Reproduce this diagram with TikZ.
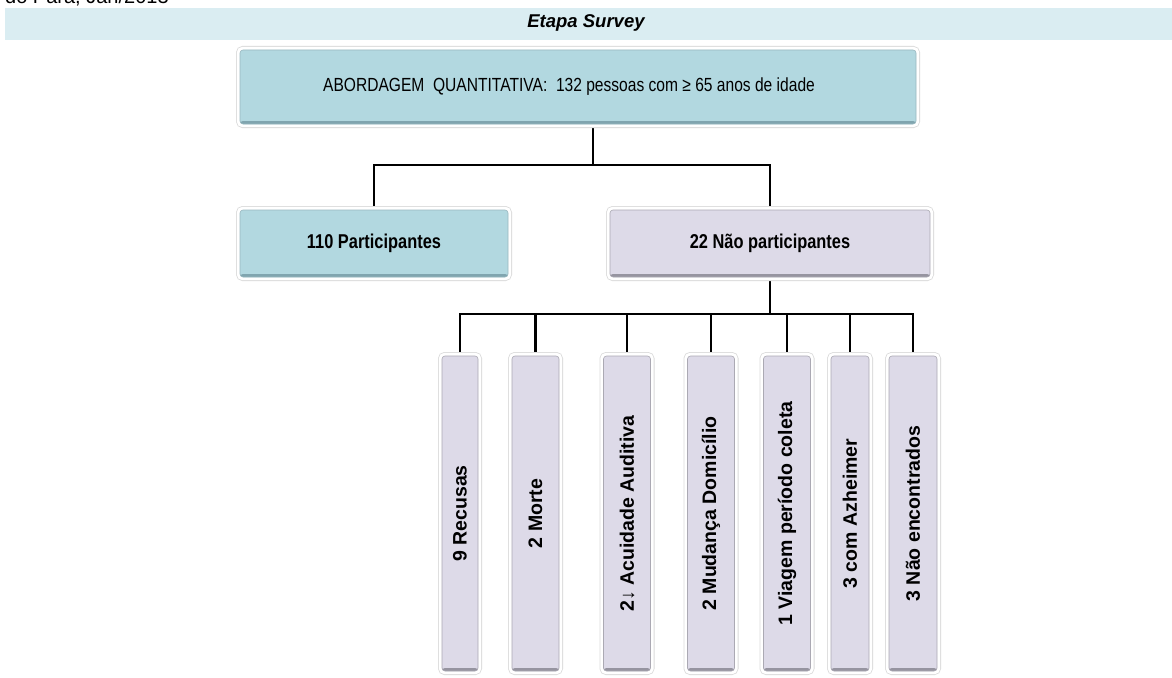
\documentclass[tikz,border=0pt]{standalone}
\usepackage{fontspec}
\setmainfont{Liberation Sans}
\newfontfamily\narrowfont{Liberation Sans}[FakeStretch=0.82]
\usetikzlibrary{calc,backgrounds}
\definecolor{bandc}{RGB}{218,237,242}
\definecolor{tealfill}{RGB}{178,216,224}
\definecolor{tealdark}{RGB}{128,165,175}
\definecolor{lavfill}{RGB}{221,218,232}
\definecolor{lavdark}{RGB}{150,148,160}
\tikzset{
  rimbox/.style={rectangle, rounded corners=3pt, inner sep=0pt, line width=0.6pt,
    preaction={draw=black!14, line width=8pt},
    preaction={draw=white, line width=6.4pt}},
  tealbox/.style={rimbox, fill=tealfill, draw=tealdark!80,
    path picture={\fill[tealdark] (path picture bounding box.south west) rectangle ([yshift=3pt]path picture bounding box.south east);}},
  lavbox/.style={rimbox, fill=lavfill, draw=lavdark!80,
    path picture={\fill[lavdark] (path picture bounding box.south west) rectangle ([yshift=3pt]path picture bounding box.south east);}},
  conn/.style={draw=black, line width=2.6pt},
  vlabel/.style={rotate=90, inner sep=0pt, font=\fontsize{19.5}{22}\selectfont\bfseries},
  hlabel/.style={inner sep=0pt, font=\fontsize{19}{22}\selectfont\narrowfont},
  blabel/.style={inner sep=0pt, font=\fontsize{20}{22}\selectfont\narrowfont\bfseries},
}
\begin{document}
\begin{tikzpicture}[x=1pt,y=-1pt]
\useasboundingbox (0,0) rectangle (1172,677);
% clipped source line at the top
\node[anchor=base west, inner sep=0pt, font=\fontsize{20}{22}\selectfont] (src) at (5,4) {do Pará, Jan/2013};
% header band
\node[fill=bandc, minimum width=1167pt, minimum height=32pt, inner sep=0pt] (band) at (588.5,24) {};
\node[inner sep=0pt, font=\fontsize{18.5}{20}\selectfont\bfseries\itshape] (hdr) at (586,23) {Etapa Survey};
% top box
\node[tealbox, minimum width=676pt, minimum height=74pt] (top) at (578,87) {};
\node[hlabel] (toplbl) at (569,87) {ABORDAGEM\ \ QUANTITATIVA:\ \ 132 pessoas com ≥ 65 anos de idade};
% second level
\node[tealbox, minimum width=268pt, minimum height=67pt] (left) at (374,243.5) {};
\node[blabel] (leftlbl) at (left.center) {110 Participantes};
\node[lavbox, minimum width=320pt, minimum height=67pt] (right) at (770,243.5) {};
\node[blabel] (rightlbl) at (right.center) {22 Não participantes};
% third level
\node[lavbox, minimum width=36pt, minimum height=315pt] (b1) at (460,513.5) {};
\node[lavbox, minimum width=47pt, minimum height=315pt] (b2) at (535.5,513.5) {};
\node[lavbox, minimum width=47pt, minimum height=315pt] (b3) at (627,513.5) {};
\node[lavbox, minimum width=47pt, minimum height=315pt] (b4) at (711,513.5) {};
\node[lavbox, minimum width=47pt, minimum height=315pt] (b5) at (787,513.5) {};
\node[lavbox, minimum width=38pt, minimum height=315pt] (b6) at (850,513.5) {};
\node[lavbox, minimum width=48pt, minimum height=315pt] (b7) at (913,513.5) {};
\node[vlabel] (l1) at (b1.center) {9 Recusas};
\node[vlabel] (l2) at (b2.center) {2 Morte};
\node[vlabel] (l3) at (b3.center) {2↓ Acuidade Auditiva};
\node[vlabel] (l4) at (b4.center) {2 Mudança Domicílio};
\node[vlabel] (l5) at (b5.center) {1 Viagem período coleta};
\node[vlabel] (l6) at (b6.center) {3 com Azheimer};
\node[vlabel] (l7) at (b7.center) {3 Não encontrados};
% connectors
\coordinate (topc) at ($(top.south)+(15,0)$);
\coordinate (bar1) at (0,165);
\coordinate (bar2) at (0,314);
\begin{scope}[on background layer]
\fill[white] (0,0) rectangle (1172,677);
\draw[conn] (topc) -- (topc |- bar1) -| (left.north);
\draw[conn] (topc) -- (topc |- bar1) -| (right.north);
\foreach \b in {b1,b2,b3,b4,b5,b6,b7}{
  \draw[conn] (right.south) -- (right.south |- bar2) -| (\b.north);
}
\end{scope}
\end{tikzpicture}
\end{document}
